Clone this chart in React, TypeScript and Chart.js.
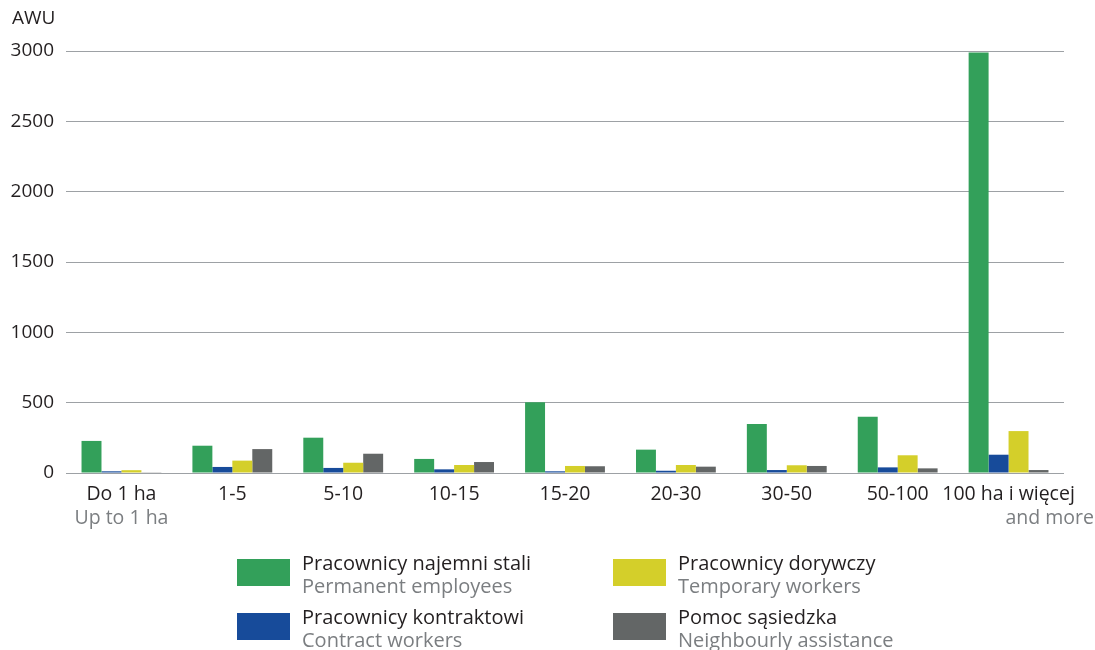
import React, { useEffect, useRef } from "react";
import { Chart, registerables } from "chart.js";

Chart.register(...registerables);

const categories = ["Do 1 ha", "1-5", "5-10", "10-15", "15-20", "20-30", "30-50", "50-100", "100 ha i więcej"];
const subLabels = ["Up to 1 ha", "", "", "", "", "", "", "", "and more"];

const permanent = [228, 194, 251, 100, 503, 166, 348, 400, 2990];
const contract = [12, 43, 36, 26, 12, 16, 21, 40, 130];
const temporary = [20, 88, 73, 57, 50, 57, 55, 126, 298];
const neighbour = [5, 170, 137, 78, 48, 45, 50, 33, 21];

const seriesLabelsPL = ["Pracownicy najemni stali", "Pracownicy kontraktowi", "Pracownicy dorywczy", "Pomoc sąsiedzka"];
const seriesLabelsEN = ["Permanent employees", "Contract workers", "Temporary workers", "Neighbourly assistance"];
const seriesColors = ["#33a05a", "#174b9a", "#d4cf2a", "#636666"];

const yTicks = [0, 500, 1000, 1500, 2000, 2500, 3000];

const FONT = "'Open Sans', 'Noto Sans', sans-serif";
const DARK = "#231f20";
const GREY_TEXT = "#7b7e81";

const overlayPlugin = {
  id: "overlay",
  afterDraw(chart: any) {
    const ctx = chart.ctx;
    const xs = chart.scales.x;
    ctx.save();
    ctx.textBaseline = "middle";
    // AWU unit
    ctx.font = `19px ${FONT}`;
    ctx.fillStyle = DARK;
    ctx.textAlign = "left";
    ctx.fillText("AWU", 12, 19);
    // x labels
    ctx.font = `19.5px ${FONT}`;
    categories.forEach((c, i) => {
      const x = xs.getPixelForValue(i);
      ctx.fillStyle = DARK;
      ctx.textAlign = "center";
      ctx.fillText(c, x, 494);
      const s = subLabels[i];
      if (s) {
        ctx.fillStyle = GREY_TEXT;
        if (i === categories.length - 1) {
          ctx.textAlign = "right";
          ctx.fillText(s, chart.width - 1, 518);
        } else {
          ctx.textAlign = "center";
          ctx.fillText(s, x, 518);
        }
      }
    });
    // legend
    ctx.font = `20px ${FONT}`;
    const cols = [237, 613];
    const rows = [559, 613];
    const order = [0, 2, 1, 3];
    order.forEach((si, k) => {
      const cx = cols[k % 2];
      const ry = rows[Math.floor(k / 2)];
      ctx.fillStyle = seriesColors[si];
      ctx.fillRect(cx, ry, 53, 27);
      ctx.textAlign = "left";
      ctx.fillStyle = DARK;
      ctx.fillText(seriesLabelsPL[si], cx + 65, ry + 5);
      ctx.fillStyle = GREY_TEXT;
      ctx.fillText(seriesLabelsEN[si], cx + 65, ry + 28);
    });
    ctx.restore();
  },
};

export default function App() {
  const ref = useRef<HTMLCanvasElement>(null);
  useEffect(() => {
    const series = [permanent, contract, temporary, neighbour];
    const chart = new Chart(ref.current!, {
      type: "bar",
      data: {
        labels: categories,
        datasets: series.map((d, i) => ({
          label: seriesLabelsPL[i],
          data: d,
          backgroundColor: seriesColors[i],
          borderWidth: 0,
          barPercentage: 1,
          categoryPercentage: 0.72,
        })),
      },
      options: {
        responsive: false,
        animation: false,
        devicePixelRatio: 1,
        layout: { padding: { left: 0, top: 51, right: 31, bottom: 177 } },
        plugins: { legend: { display: false }, tooltip: { enabled: false } },
        scales: {
          x: {
            grid: { display: false },
            border: { display: false },
            ticks: { display: false },
            afterFit: (s: any) => { s.height = 0; },
          },
          y: {
            min: 0,
            max: 3000,
            afterBuildTicks: (s: any) => { s.ticks = yTicks.map((v) => ({ value: v })); },
            afterFit: (s: any) => { s.width = 66; },
            border: { display: false },
            grid: { color: "#9da1a5", lineWidth: 1, drawTicks: false },
            ticks: {
              padding: 12,
              color: DARK,
              font: { family: FONT, size: 19 },
              callback: (v: any) => String(v),
            },
          },
        },
      },
      plugins: [overlayPlugin],
    });
    return () => chart.destroy();
  }, []);
  return (
    <div style={{ position: "fixed", left: 0, top: 0, width: 1095, height: 650, background: "#fff" }}>
      <canvas ref={ref} width={1095} height={650} />
    </div>
  );
}
